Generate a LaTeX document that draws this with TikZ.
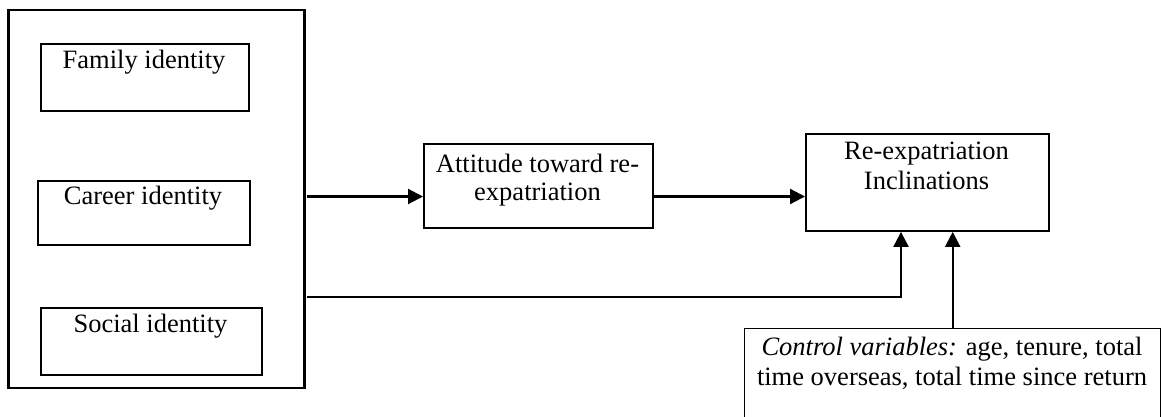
\documentclass[tikz,border=0pt]{standalone}
\usepackage{fontspec}
\setmainfont{Liberation Serif}
\usetikzlibrary{arrows.meta}
\begin{document}
\begin{tikzpicture}[x=1pt,y=-1pt,
  bx/.style={draw, line width=1.9pt, inner sep=0pt, anchor=north west},
  txt/.style={font=\fontsize{26.5}{30}\selectfont, align=center, inner sep=0pt, anchor=north},
  arr/.style={line width=2.1pt, -{Triangle[length=15pt,width=15pt]}}]
\useasboundingbox[fill=white] (0,0) rectangle (1161,416);
\clip (0,0) rectangle (1161,416);
% boxes
\node[bx, line width=2.8pt, minimum width=296pt, minimum height=378pt] (grp) at (7,8.5) {};
\node[bx, minimum width=208pt, minimum height=67pt] (fam) at (40,43) {};
\node[bx, minimum width=212pt, minimum height=64pt] (car) at (37,180) {};
\node[bx, minimum width=221pt, minimum height=67pt] (soc) at (40,307) {};
\node[bx, minimum width=229pt, minimum height=84pt] (att) at (423,143) {};
\node[bx, minimum width=243pt, minimum height=97pt] (rei) at (805,133) {};
\node[bx, line width=1.4pt, minimum width=416pt, minimum height=110pt] (ctl) at (744,328) {};
% texts
\node[txt] (famt) at (144,50) {Family identity};
\node[txt] (cart) at (143,186) {Career identity};
\node[txt] (soct) at (150.5,314) {Social identity};
\node[txt, font=\fontsize{26.5}{28}\selectfont] (attt) at (537.5,154) {Attitude toward re-\\expatriation};
\node[txt] (reit) at (926.5,142) {Re-expatriation\\Inclinations};
\node[txt] (ctlt) at (952,337) {\textit{Control variables:} age, tenure, total\\time overseas, total time since return};
% connectors
\coordinate (a1) at (307,196.5);
\draw[arr] (a1) -- (a1 -| att.west);
\draw[arr] (att.east |- a1) -- (rei.west |- a1);
\coordinate (b1) at (307,297);
\coordinate (b2) at (901,297);
\draw[arr] (b1) -- (b2) -- (b2 |- rei.south);
\draw[arr] (ctl.north) -- (ctl.north |- rei.south);
\end{tikzpicture}
\end{document}
